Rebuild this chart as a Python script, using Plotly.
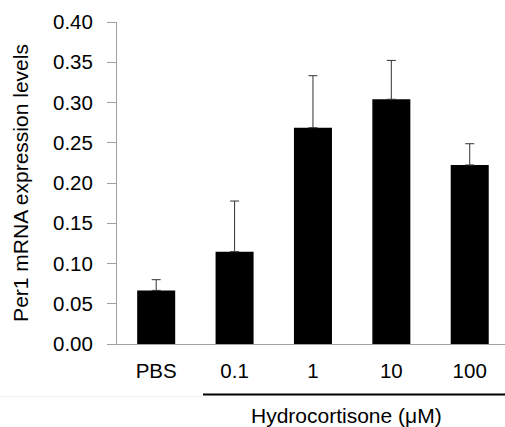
import plotly.graph_objects as go

categories = ["PBS", "0.1", "1", "10", "100"]
values = [0.0666, 0.1147, 0.2687, 0.3040, 0.2224]
errors_up = [0.0133, 0.0629, 0.0646, 0.0483, 0.0264]
y_ticks = [0.00, 0.05, 0.10, 0.15, 0.20, 0.25, 0.30, 0.35, 0.40]
group_label = "Hydrocortisone (μM)"
y_title = "Per1 mRNA expression levels"

FONT = "Liberation Sans, Arial, sans-serif"

fig = go.Figure()
fig.add_trace(go.Bar(
    x=list(range(len(categories))),
    y=values,
    width=0.485,
    marker=dict(color="black", line=dict(width=0)),
    error_y=dict(type="data", array=errors_up, arrayminus=[0]*len(values),
                 symmetric=False, color="#333333", thickness=1, width=4.5),
))

fig.update_layout(
    width=505, height=427,
    margin=dict(l=117, r=0, t=22, b=83),
    plot_bgcolor="white", paper_bgcolor="white",
    showlegend=False,
    font=dict(family=FONT, color="black", size=21),
)
fig.update_xaxes(
    range=[-0.5, 4.45],
    tickmode="array", tickvals=list(range(len(categories))), ticktext=categories,
    showline=True, linecolor="#a0a0a0", linewidth=1,
    ticks="", showgrid=False, zeroline=False,
    tickfont=dict(size=20.5, family=FONT, color="black"),
    ticklabelstandoff=8,
)
fig.update_yaxes(
    range=[0, 0.40],
    tickmode="array", tickvals=y_ticks, ticktext=[f"{v:.2f}" for v in y_ticks],
    showline=True, linecolor="#a0a0a0", linewidth=1,
    ticks="outside", ticklen=9, tickcolor="#a0a0a0", tickwidth=1,
    showgrid=False, zeroline=False,
    tickfont=dict(size=20.5, family=FONT, color="black"),
    ticklabelstandoff=10,
    title=dict(text=y_title, font=dict(size=21, family=FONT, color="black"), standoff=18),
)

# group bracket line and label
fig.add_shape(type="line", xref="x", yref="paper",
              x0=0.597, x1=4.45, y0=-0.157, y1=-0.157,
              line=dict(color="black", width=2))
fig.add_shape(type="line", xref="paper", yref="paper",
              x0=-0.302, x1=0.22, y0=-0.163, y1=-0.163,
              line=dict(color="#eeeeee", width=1))
fig.add_annotation(text=group_label, xref="x", yref="paper",
                   x=2.43, y=-0.222, showarrow=False,
                   xanchor="center", yanchor="middle",
                   font=dict(size=21, family=FONT, color="black"))

fig.write_html("out.html", config={"displayModeBar": False},
               post_script="document.body.style.margin='0';")
